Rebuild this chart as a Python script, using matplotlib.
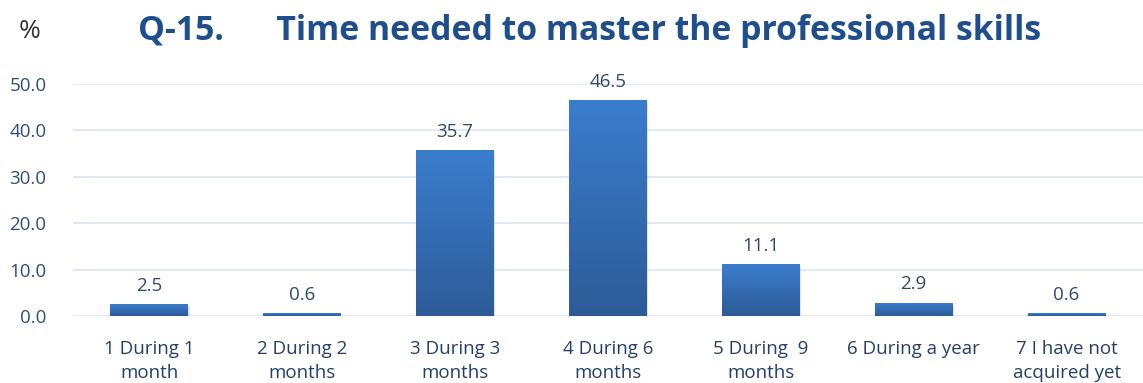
import numpy as np
import matplotlib.pyplot as plt
from matplotlib.patches import Rectangle

categories = ["1 During 1\nmonth", "2 During 2\nmonths", "3 During 3\nmonths",
              "4 During 6\nmonths", "5 During  9\nmonths", "6 During a year",
              "7 I have not\nacquired yet"]
values = [2.5, 0.6, 35.7, 46.5, 11.1, 2.9, 0.6]
yticks = [0, 10, 20, 30, 40, 50]

plt.rcParams['font.family'] = ['Open Sans', 'DejaVu Sans']

fig = plt.figure(figsize=(11.43, 3.83), dpi=100)
ax = fig.add_axes([73 / 1143, 1 - 316 / 383, 1070 / 1143, 232 / 383])

x = np.arange(len(values))
width = 0.51
grad = np.linspace(0, 1, 256).reshape(-1, 1)
cmap = plt.matplotlib.colors.LinearSegmentedColormap.from_list(
    "bar", ["#2D5B98", "#3B7DCD"])

for xi, v in zip(x, values):
    # soft shadow then gradient-filled bar
    ax.add_patch(Rectangle((xi - width / 2 + 0.008, -0.5), width, v, color="#b8c2d0",
                           alpha=0.45, zorder=2, lw=0))
    rect = Rectangle((xi - width / 2, 0), width, v, facecolor="none", lw=0, zorder=3)
    ax.add_patch(rect)
    im = ax.imshow(grad, extent=(xi - width / 2, xi + width / 2, 0, v), origin="lower",
                   cmap=cmap, aspect="auto", zorder=3)
    im.set_clip_path(rect)
    ax.text(xi, v + 2.0, f"{v:.1f}", ha="center", va="bottom", fontsize=13.5,
            color="#2E4A6E")

ax.set_xlim(-0.5, len(values) - 0.5)
ax.set_ylim(0, 50)
ax.set_yticks(yticks)
ax.set_yticklabels([f"{t:.1f}" for t in yticks], color="#2E4F7E", fontsize=13.5)
ax.set_xticks(x)
ax.set_xticklabels(categories, color="#24406A", fontsize=13.5, linespacing=1.45)
ax.tick_params(length=0, axis="y", pad=19)
ax.tick_params(length=0, axis="x", pad=17)
ax.yaxis.grid(True, color="#DCE6F2", lw=1.2, zorder=0)
ax.set_axisbelow(True)
for s in ax.spines.values():
    s.set_visible(False)

fig.text(30 / 1143, 1 - 31 / 383, "%", fontsize=19, color="#333333",
         ha="center", va="center")
fig.text(590 / 1143, 1 - 31 / 383, "Q-15.      Time needed to master the professional skills",
         fontsize=24.3, fontweight="bold", color="#1F4E8C", ha="center", va="center")

fig.savefig("out.png", dpi=100)
